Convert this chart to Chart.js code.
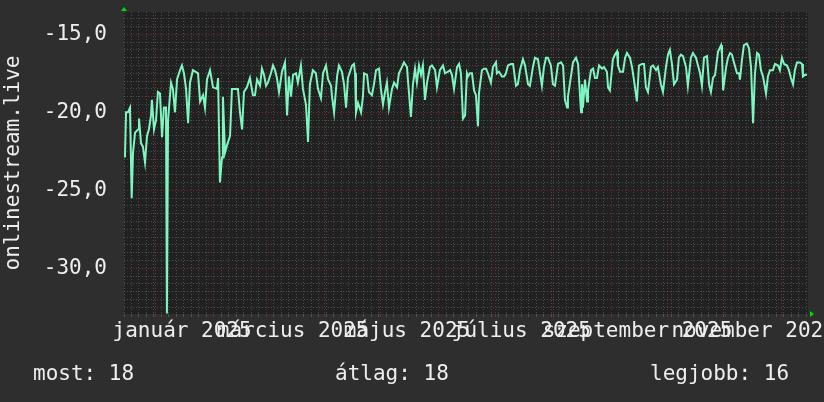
<!DOCTYPE html>
<html>
<head>
<meta charset="utf-8">
<script src="https://cdn.jsdelivr.net/npm/chart.js@4.4.0/dist/chart.umd.min.js"></script>
<style>
  html, body { margin: 0; padding: 0; background: #2e2e2e; }
  #wrap { width: 824px; height: 402px; }
</style>
</head>
<body>
<div id="wrap"><canvas id="rrd" width="824" height="402"></canvas></div>
<script>
// --- Data (day offsets from 2024-12-15, one year window) ---
const days = [
  0.5,1.1,2.1,3.2,4.1,4.8,5.9,7.5,8.0,9.1,
  10.1,11.2,12.3,13.3,14.4,14.9,16.0,17.1,18.1,19.2,
  20.3,21.3,22.4,22.9,23.5,25.1,26.1,27.2,28.3,29.9,
  30.9,32.0,33.1,34.2,35.2,36.8,39.5,40.6,42.2,43.2,
  44.3,45.9,47.5,49.6,50.2,51.2,52.3,52.8,53.9,55.0,
  56.6,57.6,59.2,60.8,61.9,63.0,64.0,65.6,67.2,68.8,
  69.9,71.0,72.6,73.6,74.7,75.8,76.8,78.4,79.5,80.6,
  81.6,82.7,84.3,85.9,87.0,88.0,89.1,90.2,91.8,92.8,
  94.4,95.5,97.1,98.2,99.2,100.8,102.4,103.5,105.1,106.2,
  107.8,108.9,110.5,111.0,112.1,113.7,114.7,116.3,117.4,118.5,
  119.5,121.7,122.7,123.3,123.8,124.9,126.5,127.5,128.1,129.7,
  130.7,132.3,133.4,134.5,136.1,137.1,138.2,139.3,140.3,141.4,
  143.0,144.1,145.7,146.7,148.3,149.4,151.0,151.5,153.1,154.2,
  155.3,156.3,157.4,158.5,159.5,160.6,161.7,163.3,164.3,166.0,
  167.0,168.6,170.2,171.3,172.9,174.0,175.0,176.1,177.7,178.8,
  179.8,180.9,182.0,183.0,183.6,184.6,185.7,186.8,187.8,188.9,
  189.4,191.0,192.1,193.2,194.2,195.8,196.9,198.5,199.0,200.1,
  201.7,202.8,203.8,204.9,206.5,207.6,209.2,210.2,211.3,212.9,
  214.0,215.6,216.6,218.2,219.3,220.9,222.0,223.0,224.1,225.2,
  226.2,227.8,228.9,230.0,231.6,233.2,234.3,235.3,236.4,236.9,
  238.5,239.6,241.2,242.3,243.9,244.4,244.9,246.0,247.1,247.6,
  249.2,250.3,251.3,252.4,253.5,255.1,256.1,257.7,258.3,259.3,
  260.9,262.0,263.1,263.6,264.7,266.3,267.4,268.4,270.0,271.1,
  272.1,273.7,274.8,276.4,277.5,278.5,279.6,281.2,282.3,283.9,
  284.9,286.5,287.6,289.2,290.3,291.3,292.4,293.5,295.1,296.1,
  297.2,298.3,299.9,300.9,302.5,303.6,305.2,306.3,307.4,308.4,
  309.5,311.1,312.2,313.2,314.3,315.4,317.0,318.6,319.1,319.7,
  321.3,322.3,323.4,324.4,325.5,327.1,328.2,328.7,329.8,330.8,
  332.4,333.5,334.6,335.7,336.7,337.8,338.8,339.9,341.0,342.6,
  343.6,344.7,346.3,347.4,349.0,350.0,351.1,352.2,353.8,354.8,
  355.9,357.0,358.0,359.1,360.7,361.8,362.3,363.4,364.5
];
const values = [
  -22.9,-20.0,-20.0,-19.7,-25.5,-22.6,-21.3,-21.1,-20.4,-22.0,
  -22.2,-23.2,-21.5,-21.1,-20.2,-19.2,-21.1,-20.5,-18.7,-18.8,
  -21.6,-19.7,-19.7,-32.9,-20.5,-18.1,-18.5,-20.0,-17.9,-17.3,
  -17.0,-17.5,-18.5,-20.7,-18.1,-17.3,-17.5,-19.3,-18.9,-19.7,
  -17.9,-17.3,-18.4,-18.5,-17.8,-24.5,-22.9,-19.0,-22.6,-22.1,
  -21.5,-18.5,-18.5,-18.5,-20.0,-21.1,-18.7,-18.4,-17.8,-18.9,
  -18.9,-17.9,-18.3,-17.2,-17.6,-18.3,-18.1,-17.5,-17.0,-17.3,
  -17.8,-18.7,-17.4,-16.8,-20.2,-17.7,-19.0,-17.6,-17.5,-18.1,
  -17.0,-18.5,-19.5,-21.9,-18.2,-17.3,-17.5,-18.5,-19.1,-17.5,
  -17.0,-17.9,-18.3,-19.0,-20.0,-17.7,-17.0,-17.4,-18.2,-19.7,
  -17.8,-17.0,-16.9,-17.5,-20.0,-19.4,-20.0,-19.0,-17.5,-17.6,
  -18.7,-18.9,-18.2,-17.3,-17.2,-18.5,-19.5,-18.7,-18.1,-19.7,
  -18.5,-18.1,-18.4,-17.5,-17.1,-16.8,-17.1,-17.9,-20.3,-18.2,
  -17.2,-18.1,-17.0,-17.6,-17.0,-19.2,-18.1,-17.1,-17.0,-17.3,
  -18.4,-17.3,-17.0,-17.5,-17.4,-17.3,-17.6,-18.5,-17.1,-16.9,
  -17.5,-20.4,-20.2,-17.5,-17.7,-17.5,-17.5,-18.6,-18.9,-20.9,
  -18.8,-17.3,-17.2,-17.2,-17.5,-18.1,-17.1,-16.8,-17.5,-17.4,
  -17.7,-17.7,-17.5,-17.0,-16.9,-16.9,-18.3,-18.2,-17.3,-16.6,
  -17.0,-18.2,-18.3,-17.1,-16.5,-16.6,-17.5,-18.3,-17.1,-16.5,
  -16.5,-17.0,-18.2,-18.3,-16.9,-16.8,-17.0,-19.2,-19.7,-19.0,
  -17.7,-16.8,-16.5,-16.9,-20.0,-18.2,-19.7,-17.9,-19.3,-18.6,
  -17.3,-17.2,-17.8,-17.8,-17.0,-17.2,-17.1,-17.4,-18.4,-18.6,
  -16.6,-16.3,-16.1,-17.0,-17.4,-17.4,-16.5,-16.2,-16.5,-17.1,
  -17.9,-19.3,-17.0,-16.9,-16.9,-18.4,-18.7,-17.1,-17.0,-17.3,
  -17.1,-18.2,-18.7,-17.1,-16.3,-16.0,-16.9,-18.2,-17.9,-16.5,
  -16.3,-16.4,-17.1,-18.3,-16.5,-16.2,-16.5,-17.0,-17.5,-18.3,
  -16.5,-16.4,-18.2,-18.7,-17.8,-17.6,-16.1,-15.7,-16.3,-18.6,
  -17.1,-16.5,-16.2,-16.3,-16.8,-17.5,-17.5,-17.9,-16.6,-15.7,
  -15.6,-15.9,-17.1,-20.7,-17.5,-16.2,-16.3,-17.3,-17.7,-18.8,
  -17.7,-17.3,-17.3,-16.9,-17.0,-17.3,-16.5,-16.9,-17.0,-17.3,
  -17.8,-18.2,-17.3,-16.8,-16.8,-16.9,-17.7,-17.6,-17.6
];

// month starts (red grid) and label positions (mid-month)
const monthStartDays = [17, 48, 76, 107, 137, 168, 198, 229, 260, 290, 321, 351];
const monthLabelDays = [31, 90, 151, 212, 274, 336];
const monthLabels = ['január 2025', 'március 2025', 'május 2025', 'július 2025', 'szeptember 2025', 'november 2025'];
const yMajorTicks = [-30, -25, -20, -15];

const legendNames = ['most', 'átlag', 'legjobb'];
const legendValues = [18, 18, 16];

// --- Styling ---
const FONT_FAMILY = 'DejaVu Sans Mono';
const FONT_SIZE = 21;
const textColor = '#eeeeee';
const plotBg = '#212121';
const minorGrid = 'rgba(120, 120, 120, 0.5)';
const majorGrid = 'rgba(135, 50, 50, 0.8)';
const lineColor = '#7ff5bf';

// RRDtool-like decorations: plot background, x labels, legend row, arrows
const rrdDecor = {
  id: 'rrdDecor',
  beforeDraw(chart) {
    const { ctx, chartArea: a } = chart;
    ctx.save();
    ctx.fillStyle = plotBg;
    ctx.fillRect(a.left, a.top, a.right - a.left, a.bottom - a.top);
    ctx.restore();
  },
  afterDraw(chart) {
    const { ctx, chartArea: a } = chart;
    const x = chart.scales.x;
    ctx.save();
    ctx.font = FONT_SIZE + 'px "' + FONT_FAMILY + '"';
    ctx.fillStyle = textColor;
    ctx.textBaseline = 'middle';
    ctx.textAlign = 'center';
    monthLabels.forEach((t, i) => {
      ctx.fillText(t, x.getPixelForValue(monthLabelDays[i]), a.bottom + 18);
    });
    ctx.textAlign = 'left';
    const legendX = [33, 335, 650];
    legendNames.forEach((n, i) => {
      ctx.fillText(n + ': ' + legendValues[i], legendX[i], 375);
    });
    // small green arrows at the axis ends
    ctx.fillStyle = '#00dd00';
    ctx.beginPath();
    ctx.moveTo(a.left - 3, a.top - 1);
    ctx.lineTo(a.left + 3, a.top - 1);
    ctx.lineTo(a.left, a.top - 5);
    ctx.closePath();
    ctx.fill();
    ctx.beginPath();
    ctx.moveTo(a.right + 2, a.bottom - 3);
    ctx.lineTo(a.right + 2, a.bottom + 3);
    ctx.lineTo(a.right + 6, a.bottom);
    ctx.closePath();
    ctx.fill();
    ctx.restore();
  }
};

const isMajorY = v => yMajorTicks.some(t => Math.abs(t - v) < 1e-6);

new Chart(document.getElementById('rrd'), {
  type: 'line',
  data: {
    datasets: [{
      data: days.map((d, i) => ({ x: d, y: values[i] })),
      borderColor: lineColor,
      borderWidth: 2,
      pointRadius: 0,
      tension: 0,
      fill: false
    }]
  },
  options: {
    responsive: false,
    animation: false,
    layout: { padding: { top: 12, right: 16, left: 0, bottom: 0 } },
    plugins: { legend: { display: false }, tooltip: { enabled: false } },
    scales: {
      x: {
        type: 'linear',
        min: 0,
        max: 365,
        afterBuildTicks: scale => {
          const t = [];
          for (let d = 0; d <= 365; d += 4) {
            if (!monthStartDays.includes(d)) t.push({ value: d });
          }
          monthStartDays.forEach(d => t.push({ value: d }));
          t.sort((p, q) => p.value - q.value);
          scale.ticks = t;
        },
        afterFit: scale => {
          scale.height = 88;
          scale.paddingLeft = 0;
          scale.paddingRight = 0;
        },
        ticks: { display: false, autoSkip: false },
        grid: {
          color: c => (c.tick && monthStartDays.includes(c.tick.value)) ? majorGrid : minorGrid,
          lineWidth: 1,
          drawTicks: true,
          tickLength: 3
        },
        border: { display: false, dash: [1, 2] }
      },
      y: {
        min: -32.93,
        max: -13.57,
        afterBuildTicks: scale => {
          const t = [];
          for (let v = -32.5; v <= -13.6; v += 0.5) t.push({ value: v });
          scale.ticks = t;
        },
        afterFit: scale => {
          scale.width = 124;
          scale.paddingTop = 0;
          scale.paddingBottom = 0;
        },
        ticks: {
          autoSkip: false,
          padding: 17,
          color: textColor,
          font: { family: FONT_FAMILY, size: FONT_SIZE },
          callback: v => isMajorY(v) ? v.toFixed(1).replace('.', ',') : ''
        },
        grid: {
          color: c => (c.tick && isMajorY(c.tick.value)) ? majorGrid : minorGrid,
          lineWidth: 1,
          drawTicks: false
        },
        border: { display: false, dash: [1, 2] },
        title: {
          display: true,
          text: 'onlinestream.live',
          color: textColor,
          font: { family: FONT_FAMILY, size: FONT_SIZE },
          padding: { top: 1, bottom: 0 }
        }
      }
    }
  },
  plugins: [rrdDecor]
});
</script>
</body>
</html>
